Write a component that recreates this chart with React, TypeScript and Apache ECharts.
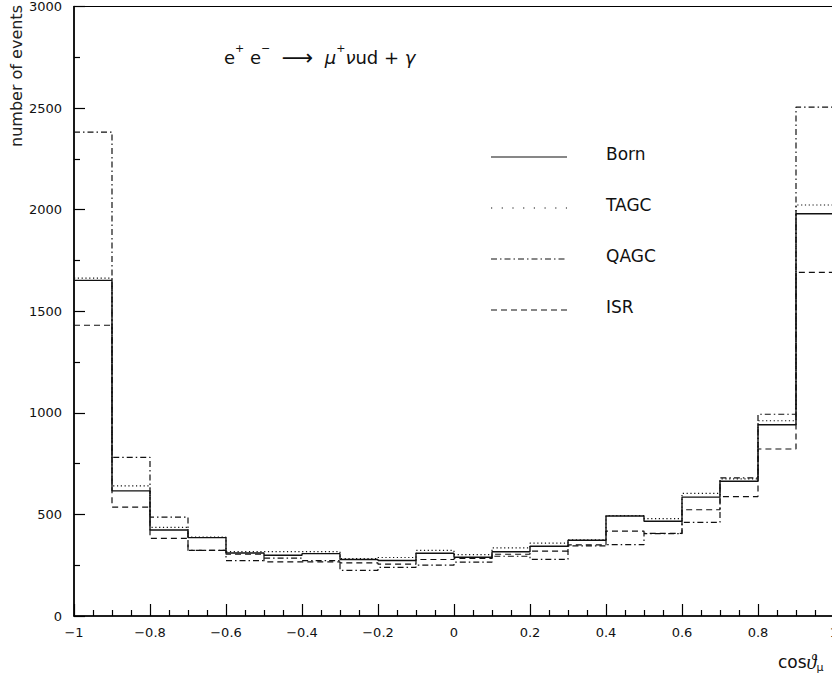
import React, { useEffect, useRef } from "react";
import * as echarts from "echarts";

// Bin edges of cos(theta_mu)
const binEdges = [-1, -0.9, -0.8, -0.7, -0.6, -0.5, -0.4, -0.3, -0.2, -0.1, 0, 0.1, 0.2, 0.3, 0.4, 0.5, 0.6, 0.7, 0.8, 0.9, 1];

const seriesNames = ["Born", "TAGC", "QAGC", "ISR"];

const bornValues = [1652, 616, 423, 386, 310, 299, 307, 278, 273, 309, 289, 316, 343, 373, 492, 466, 585, 663, 941, 1980];
const tagcValues = [1663, 640, 436, 388, 317, 317, 317, 283, 288, 323, 302, 335, 359, 375, 494, 479, 604, 675, 961, 2023];
const qagcValues = [2382, 781, 487, 323, 273, 285, 273, 225, 239, 250, 265, 294, 279, 345, 351, 405, 461, 680, 993, 2505];
const isrValues = [1431, 536, 382, 323, 304, 266, 266, 261, 255, 278, 283, 304, 319, 350, 418, 407, 523, 588, 822, 1691];

const yTicks = [0, 500, 1000, 1500, 2000, 2500, 3000];

const FONT = "DejaVu Sans";
const INK = "#111";

const dashStyles: any[] = ["solid", [1.2, 2.6], [6, 3, 1.5, 3], [6, 4]];

function histData(vals: number[]) {
  return binEdges.map((x, i) => [x, vals[Math.min(i, vals.length - 1)]]);
}

function fmtX(v: number) {
  const r = Math.round(v * 10) / 10;
  let s = r.toString();
  if (s === "-0") s = "0";
  return s.replace("-", "\u2212");
}

export default function App() {
  const ref = useRef<HTMLDivElement>(null);

  useEffect(() => {
    if (!ref.current) return;
    const chart = echarts.init(ref.current, undefined, { renderer: "svg" });
    const allVals = [bornValues, tagcValues, qagcValues, isrValues];

    const legendY = [157, 208, 259, 310];
    const legendGraphics: any[] = [];
    seriesNames.forEach((name, i) => {
      legendGraphics.push({
        type: "line",
        shape: { x1: 491, y1: legendY[i], x2: 567, y2: legendY[i] },
        style: {
          stroke: INK,
          lineWidth: 1.2,
          lineDash: dashStyles[i] === "solid" ? null : (i === 1 ? [1.2, 9.5] : dashStyles[i]),
        },
      });
      legendGraphics.push({
        type: "text",
        x: 606,
        y: legendY[i] - 3,
        style: {
          text: name,
          font: `17px "${FONT}"`,
          fill: INK,
          textVerticalAlign: "middle",
          textAlign: "left",
        },
      });
    });

    const option: any = {
      animation: false,
      backgroundColor: "#fff",
      grid: {
        left: 74,
        right: 16,
        top: 4,
        bottom: 60,
        show: true,
        borderColor: "#000",
        borderWidth: 1.2,
        backgroundColor: "transparent",
      },
      xAxis: {
        type: "value",
        min: -1,
        max: 1,
        interval: 0.2,
        axisLine: { show: true, onZero: false, lineStyle: { color: "#000", width: 1.5 } },
        axisTick: { show: true, inside: true, length: 12, lineStyle: { color: "#000", width: 1.2 } },
        minorTick: { show: true, splitNumber: 4, length: 6, lineStyle: { color: "#000", width: 1.2 } },
        splitLine: { show: false },
        axisLabel: {
          margin: 10,
          color: INK,
          fontFamily: FONT,
          fontSize: 13,
          formatter: (v: number) => fmtX(v),
          showMinLabel: true,
          showMaxLabel: true,
        },
      },
      yAxis: {
        type: "value",
        min: 0,
        max: 3000,
        interval: 500,
        axisLine: { show: true, onZero: false, lineStyle: { color: "#000", width: 1.5 } },
        axisTick: { show: true, inside: true, length: 11, lineStyle: { color: "#000", width: 1.2 } },
        minorTick: { show: true, splitNumber: 2, length: 6, lineStyle: { color: "#000", width: 1.2 } },
        splitLine: { show: false },
        axisLabel: {
          margin: 12,
          color: INK,
          fontFamily: FONT,
          fontSize: 13,
          formatter: (v: number) => (yTicks.indexOf(v) >= 0 ? String(v) : ""),
          showMinLabel: true,
          showMaxLabel: true,
        },
      },
      series: seriesNames.map((name, i) => ({
        name,
        type: "line",
        step: "end",
        symbol: "none",
        showSymbol: false,
        silent: true,
        data: histData(allVals[i]),
        lineStyle: { color: INK, width: i === 0 ? 1.4 : 1.2, type: dashStyles[i] },
        z: 10 - i,
      })),
      graphic: [
        {
          type: "text",
          x: 16,
          y: 76,
          rotation: Math.PI / 2,
          style: {
            text: "number of events",
            font: `16px "${FONT}"`,
            fill: "#222",
            textAlign: "center",
            textVerticalAlign: "middle",
          },
        },
        {
          type: "text",
          x: 224,
          y: 57,
          style: {
            text: "{m|e}{s|+}{m| e}{s|\u2212}{m|  }{a|\u27F6}{m|  }{g|\u03BC}{s|+}{g|\u03BD}{m|ud + }{g|\u03B3}",
            textVerticalAlign: "middle",
            textAlign: "left",
            fill: INK,
            rich: {
              m: { fontFamily: FONT, fontSize: 18, lineHeight: 28, color: INK },
              a: { fontFamily: FONT, fontSize: 22, lineHeight: 28, color: INK },
              g: { fontFamily: FONT, fontSize: 18, lineHeight: 28, fontStyle: "italic", color: INK },
              s: { fontFamily: FONT, fontSize: 11, lineHeight: 13, verticalAlign: "top", color: INK },
            },
          },
        },
        {
          type: "text",
          x: 778,
          y: 662,
          style: {
            text: "{m|cos}{t|\u03D1}{s|\u03BC}",
            textVerticalAlign: "middle",
            textAlign: "left",
            fill: INK,
            rich: {
              m: { fontFamily: FONT, fontSize: 17, lineHeight: 22, color: INK },
              t: { fontFamily: "Liberation Serif", fontSize: 20, lineHeight: 22, fontStyle: "italic", color: INK },
              s: { fontFamily: FONT, fontSize: 11, lineHeight: 10, verticalAlign: "bottom", color: INK },
            },
          },
        },
        ...legendGraphics,
      ],
    };
    chart.setOption(option);
    return () => chart.dispose();
  }, []);

  return (
    <div style={{ position: "fixed", left: 0, top: 0, width: 832, height: 676, overflow: "hidden", background: "#fff" }}>
      <div ref={ref} style={{ width: 850, height: 676 }} />
    </div>
  );
}
